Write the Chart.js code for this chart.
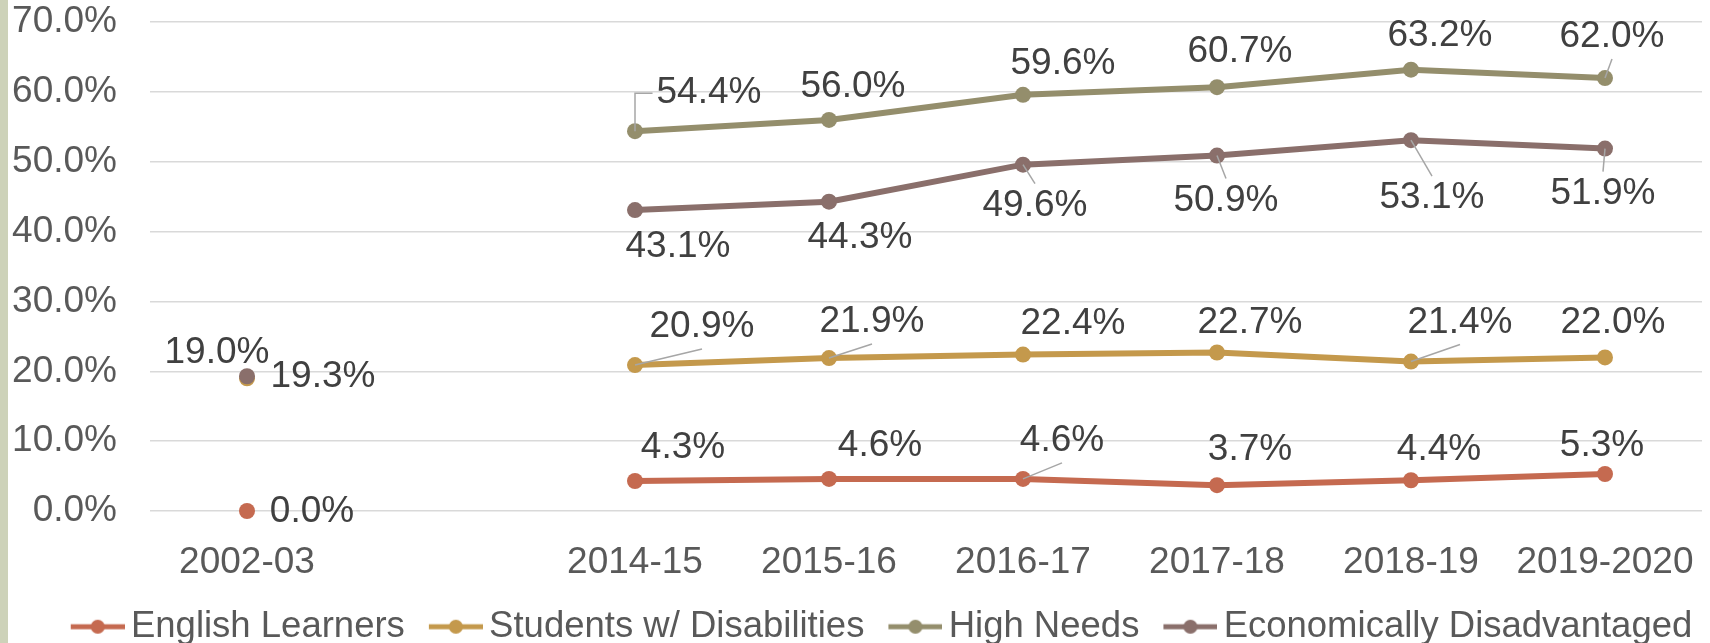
<!DOCTYPE html>
<html>
<head>
<meta charset="utf-8">
<script src="https://cdn.jsdelivr.net/npm/chart.js@4.4.0/dist/chart.umd.min.js"></script>
<style>
    html, body { margin: 0; padding: 0; background: #fff; }
    #wrap { position: relative; width: 1710px; height: 643px; }
    #edge { position: absolute; left: 0; top: 0; width: 8px; height: 643px; background: #cdd2b9; }
</style>
</head>
<body>
<div id="wrap"><div id="edge"></div><canvas id="chart" width="1710" height="643"></canvas></div>
<script>
const years = ['2002-03', '', '2014-15', '2015-16', '2016-17', '2017-18', '2018-19', '2019-2020'];
const englishLearners = [0.0, null, 4.3, 4.6, 4.6, 3.7, 4.4, 5.3];
const disabilities = [19.0, null, 20.9, 21.9, 22.4, 22.7, 21.4, 22.0];
const highNeeds = [null, null, 54.4, 56.0, 59.6, 60.7, 63.2, 62.0];
const econDisadv = [19.3, null, 43.1, 44.3, 49.6, 50.9, 53.1, 51.9];
const yTicks = [0, 10, 20, 30, 40, 50, 60, 70];

const FONT = '"Liberation Sans", Arial, sans-serif';

// label offsets from the point: [dx, dy, leader] leader 0 none, 1 straight, 2 elbow
const labelPlace = {
    'English Learners': [[65, 1, 0], null, [48, -33, 0], [51, -33, 0], [39, -38, 1], [33, -35, 0], [28, -30, 0], [-3, -28, 0]],
    'Students w/ Disabilities': [[-30, -26, 0], null, [67, -38, 1], [43, -36, 1], [50, -31, 0], [33, -30, 0], [49, -39, 1], [8, -35, 0]],
    'High Needs': [null, null, [74, -38, 2], [24, -33, 0], [40, -31, 0], [23, -35, 0], [29, -34, 0], [7, -41, 1]],
    'Economically Disadvantaged': [[76, 1, 0], null, [43, 37, 0], [31, 36, 0], [12, 41, 1], [9, 45, 1], [21, 58, 1], [-2, 45, 1]]
};

// legend icon: a short line with a dot in the middle, left part left blank for spacing
function legendIcon(color) {
    const c = document.createElement('canvas');
    c.width = 88;
    c.height = 20;
    const g = c.getContext('2d');
    g.strokeStyle = color;
    g.lineWidth = 5;
    g.beginPath();
    g.moveTo(34, 10);
    g.lineTo(88, 10);
    g.stroke();
    g.fillStyle = color;
    g.beginPath();
    g.arc(61, 10, 7, 0, Math.PI * 2);
    g.fill();
    return c;
}

const pointLabels = {
    id: 'pointLabels',
    afterDatasetsDraw(chart) {
        const ctx = chart.ctx;
        ctx.save();
        ctx.font = '37px ' + FONT;
        ctx.textAlign = 'center';
        ctx.textBaseline = 'middle';
        chart.data.datasets.forEach((ds, i) => {
            const meta = chart.getDatasetMeta(i);
            const place = labelPlace[ds.label];
            meta.data.forEach((pt, j) => {
                const v = ds.data[j];
                if (v === null || !place[j]) return;
                const [dx, dy, leader] = place[j];
                const cx = pt.x + dx, cy = pt.y + dy;
                const text = v.toFixed(1) + '%';
                const hw = ctx.measureText(text).width / 2 + 4;
                const hh = 22;
                if (leader) {
                    ctx.strokeStyle = '#a6a6a6';
                    ctx.lineWidth = 1.5;
                    ctx.beginPath();
                    ctx.moveTo(pt.x, pt.y);
                    if (leader === 2) {
                        ctx.lineTo(pt.x, cy);
                        ctx.lineTo(cx - hw, cy);
                    } else if (pt.y > cy + hh) {
                        ctx.lineTo(cx, cy + hh);
                    } else if (pt.y < cy - hh) {
                        ctx.lineTo(cx, cy - hh);
                    } else {
                        ctx.lineTo(pt.x < cx ? cx - hw : cx + hw, cy);
                    }
                    ctx.stroke();
                }
                ctx.fillStyle = '#404040';
                ctx.fillText(text, cx, cy);
            });
        });
        ctx.restore();
    }
};

// nudge the legend box to where it sits in the original
const legendNudge = {
    id: 'legendNudge',
    afterLayout(chart) {
        const lg = chart.legend;
        lg.left += 18; lg.right += 18;
        lg.top += 12; lg.bottom += 12;
    }
};

function series(label, data, color, order) {
    return {
        label,
        data,
        order,
        clip: false,
        borderColor: color,
        backgroundColor: color,
        borderWidth: 6,
        pointRadius: 8,
        pointHoverRadius: 8,
        pointBorderWidth: 0,
        pointBackgroundColor: color,
        tension: 0,
        spanGaps: false
    };
}

const colors = ['#c56a50', '#c4994c', '#948e6c', '#8a6f6b'];
const icons = colors.map(legendIcon);

new Chart(document.getElementById('chart'), {
    type: 'line',
    data: {
        labels: years,
        datasets: [
            series('English Learners', englishLearners, colors[0], 1),
            series('Students w/ Disabilities', disabilities, colors[1], 1),
            series('High Needs', highNeeds, colors[2], 1),
            series('Economically Disadvantaged', econDisadv, colors[3], 0)
        ]
    },
    options: {
        responsive: false,
        animation: false,
        devicePixelRatio: 1,
        layout: { padding: { top: 22, left: 0, right: 5, bottom: 0 } },
        plugins: {
            tooltip: { enabled: false },
            legend: {
                position: 'bottom',
                labels: {
                    usePointStyle: true,
                    pointStyleWidth: 64,
                    padding: 2,
                    color: '#595959',
                    font: { family: FONT, size: 36.5 },
                    sort: (a, b) => a.datasetIndex - b.datasetIndex,
                    generateLabels(chart) {
                        const items = Chart.defaults.plugins.legend.labels.generateLabels(chart);
                        items.forEach(it => { it.pointStyle = icons[it.datasetIndex]; });
                        return items;
                    }
                }
            }
        },
        scales: {
            x: {
                offset: true,
                grid: { display: false, drawTicks: true, tickLength: 30, tickColor: 'rgba(0,0,0,0)' },
                border: { display: false },
                ticks: { color: '#595959', font: { family: FONT, size: 37 }, padding: 0, autoSkip: false, maxRotation: 0 },
                afterFit(scale) { scale.height = 83.5; }
            },
            y: {
                min: 0,
                max: 70,
                afterBuildTicks(scale) { scale.ticks = yTicks.map(v => ({ value: v })); },
                grid: { color: '#d9d9d9', lineWidth: 1.5, drawTicks: true, tickLength: 33, tickColor: 'rgba(0,0,0,0)' },
                border: { display: false },
                ticks: {
                    color: '#595959',
                    font: { family: FONT, size: 37 },
                    padding: 0,
                    callback: v => v.toFixed(1) + '%'
                },
                afterFit(scale) { scale.width = 150; }
            }
        }
    },
    plugins: [pointLabels, legendNudge]
});
</script>
</body>
</html>
